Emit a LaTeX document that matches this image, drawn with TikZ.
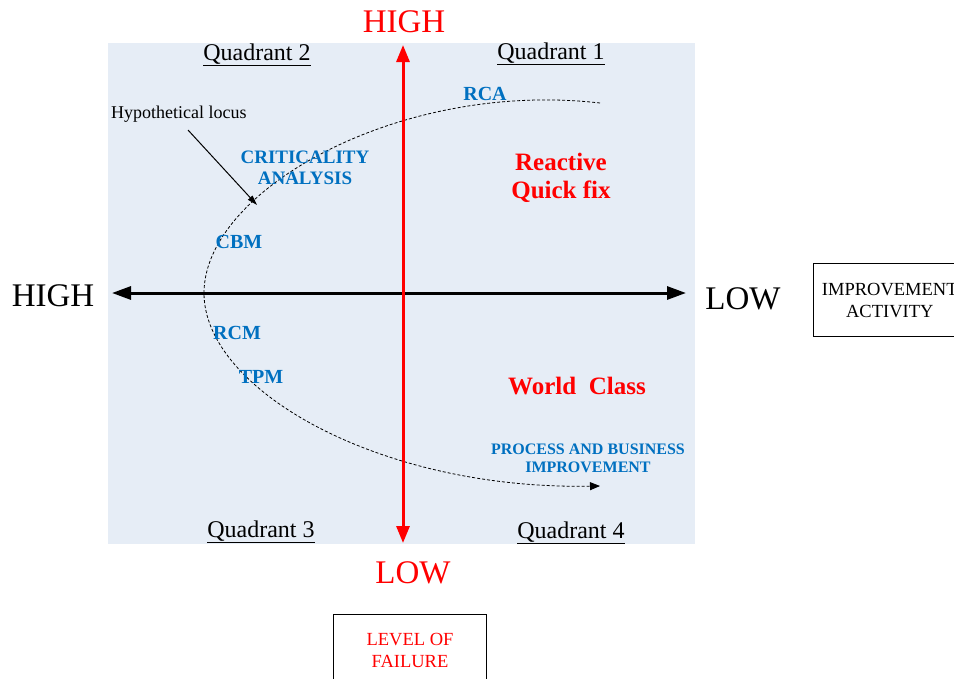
\documentclass[tikz,border=0pt]{standalone}
\usepackage{fontspec}
\setmainfont{Liberation Serif}
\usetikzlibrary{arrows.meta,positioning}
\definecolor{panel}{RGB}{230,237,246}
\definecolor{toolblue}{RGB}{0,112,192}

\begin{document}
\begin{tikzpicture}[x=1pt, y=-1pt, inner sep=0pt,
   axislab/.style={font=\fontsize{33}{36}\selectfont},
   quad/.style={font=\fontsize{24}{26}\selectfont, anchor=base},
   tool/.style={text=toolblue, font=\bfseries\fontsize{20}{21}\selectfont, align=center},
   zone/.style={text=red, font=\bfseries\fontsize{25}{28}\selectfont, align=center},
   labbox/.style={draw, line width=1pt, minimum width=153pt, minimum height=73pt, align=center, font=\fontsize{18.5}{21.5}\selectfont},
   vaxis/.style={red, line width=3pt, {Triangle[length=17pt,width=13pt]}-{Triangle[length=17pt,width=13pt]}},
   haxis/.style={black, line width=3pt, {Triangle[length=19pt,width=13pt]}-{Triangle[length=19pt,width=13pt]}},
   locus/.style={line width=0.8pt, dash pattern=on 3pt off 2pt, -{Triangle[length=10pt,width=8pt]}}]

   \useasboundingbox (0,0) rectangle (954,678);
   \fill[panel] (108,43) rectangle (695,544);

   % axis ends
   \coordinate (vt) at (403,45);
   \coordinate (vb) at (403,543);
   \coordinate (hl) at (112,293);
   \coordinate (hr) at (686,293);

   % locus
   \coordinate (ls) at (600,103);
   \coordinate (lm) at (204,293);
   \coordinate (le) at (600,486);
   \draw[locus] (ls) .. controls (400,80) and (204,190) .. (lm)
                     .. controls (204,390) and (380,490) .. (le);

   \draw[haxis] (hl) -- (hr);
   \draw[vaxis] (vt) -- (vb);

   % axis labels
   \node[axislab, text=red, anchor=base] (fhigh) at (404,32) {HIGH};
   \node[axislab, text=red, anchor=base] (flow) at (413,583) {LOW};
   \node[axislab, anchor=base] (ihigh) at (53,306) {HIGH};
   \node[axislab, anchor=base] (ilow) at (743,309) {LOW};

   \node[labbox, text=red, below=30pt of flow, xshift=-3pt] (failbox) {LEVEL OF\\FAILURE};
   \node[labbox, right=32pt of ilow, yshift=-2pt] (actbox) {IMPROVEMENT\\ACTIVITY};

   % quadrants
   \node[quad] (q1) at (551,59) {\underline{Quadrant 1}};
   \node[quad] (q2) at (257,60) {\underline{Quadrant 2}};
   \node[quad] (q3) at (261,537) {\underline{Quadrant 3}};
   \node[quad] (q4) at (571,538) {\underline{Quadrant 4}};

   % tools along the locus
   \node[tool] (rca) at (485,94) {RCA};
   \node[tool, font=\bfseries\fontsize{19}{21}\selectfont] (crit) at (305,168) {CRITICALITY\\ANALYSIS};
   \node[tool] (cbm) at (239,242) {CBM};
   \node[tool] (rcm) at (237,333) {RCM};
   \node[tool] (tpm) at (261,377) {TPM};
   \node[tool, font=\bfseries\fontsize{16}{18}\selectfont] (pbi) at (588,458) {PROCESS AND BUSINESS\\IMPROVEMENT};

   \node[zone] (react) at (561,178) {Reactive\\Quick fix};
   \node[zone] (world) at (577,386) {World~ Class};

   \node[anchor=base west, font=\fontsize{18}{20}\selectfont] (hyp) at (111,118) {Hypothetical locus};
   \coordinate (hs) at (188,130);
   \coordinate (he) at (257,205);
   \draw[line width=1pt, -{Triangle[length=10pt,width=6pt]}] (hs) -- (he);
\end{tikzpicture}
\end{document}
